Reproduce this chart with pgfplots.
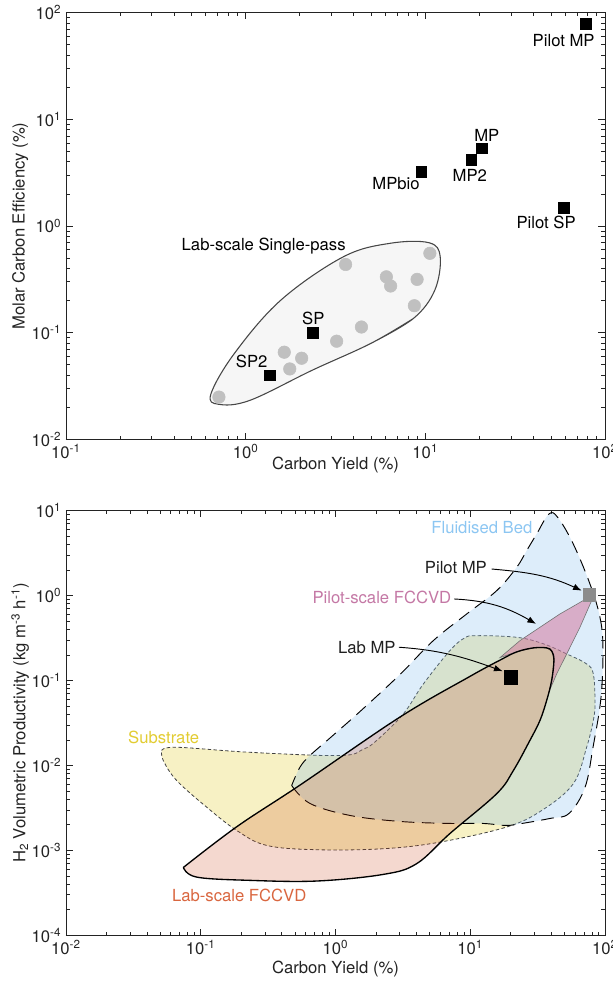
\documentclass[border=0pt]{standalone}
\usepackage{fontspec}
\setmainfont{TeX Gyre Heros}
\usepackage{pgfplots}
\usepackage{pgfplotstable}
\pgfplotsset{compat=1.18}
\usetikzlibrary{arrows.meta}

\definecolor{axisgray}{RGB}{35,35,35}
\definecolor{circgray}{RGB}{192,192,192}
\definecolor{passfill}{RGB}{246,246,246}
\definecolor{passline}{RGB}{70,70,70}
\definecolor{subfill}{RGB}{228,208,58}
\definecolor{bedfill}{RGB}{129,188,236}
\definecolor{labfill}{RGB}{200,60,15}
\definecolor{pilotfill}{RGB}{210,110,150}
\definecolor{sublabel}{RGB}{226,204,50}
\definecolor{bedlabel}{RGB}{140,198,242}
\definecolor{pilotlabel}{RGB}{196,120,165}
\definecolor{lablabel}{RGB}{217,102,63}
\definecolor{pilotsq}{RGB}{140,140,140}

\newcommand{\lbl}{\fontsize{12.5}{15}\selectfont}

% top panel: lab-scale single-pass envelope
\pgfplotstableread{
x y
4.97 0.0793
8.59 0.136
11.3 0.251
12.1 0.515
10.5 0.697
6.37 0.689
3.50 0.515
1.57 0.202
0.865 0.0638
0.640 0.0265
0.708 0.0213
1.056 0.0232
2.35 0.0445
4.97 0.0793
8.59 0.136
}\singlepass

\pgfplotstableread{
x y
0.71 0.0249
1.64 0.0656
1.76 0.0457
2.05 0.0576
3.21 0.0832
4.41 0.113
3.60 0.436
6.07 0.334
6.41 0.274
9.0 0.316
8.69 0.179
10.6 0.555
}\labpoints

\pgfplotstableread{
x y
78 79
20.6 5.36
18.0 4.17
9.5 3.21
59.2 1.49
2.36 0.100
1.36 0.040
}\processes

% bottom panel regions
\pgfplotstableread{
x y
0.0513 0.0150
0.0662 0.0164
0.232 0.0143
1.08 0.0131
1.6 0.0155
2.02 0.0197
3.19 0.0406
4.49 0.0913
7.07 0.2255
9.1 0.318
11.17 0.338
22.1 0.3235
34.7 0.272
52.0 0.206
73.1 0.157
81.9 0.12
84.3 0.0582
82.5 0.036
73.1 0.0164
58.2 0.0061
34.0 0.00296
18.5 0.00188
5.92 0.00125
2.265 0.001047
0.724 0.001019
0.308 0.001146
0.185 0.001718
0.1107 0.00323
0.0662 0.00667
0.0527 0.01146
0.0513 0.0150
}\substrate

\pgfplotstableread{
x y
0.473 0.00582
0.6466 0.003572
1.281 0.002581
3.011 0.002194
7.07 0.002078
12.43 0.002078
18.42 0.001968
24.21 0.002078
39.07 0.002379
54.06 0.002724
71.05 0.00551
81.47 0.01628
93.4 0.0631
96.6 0.2445
91.8 0.556
77.4 1.37
58.2 4.05
44.8 8.27
38.5 9.2
31.1 5.32
26.2 3.38
22.1 2.155
15.71 1.145
9.41 0.6085
5.32 0.2955
3.011 0.118
1.52 0.0432
0.910 0.02106
0.6466 0.01311
0.545 0.00955
0.473 0.00582
}\fluidbed

\pgfplotstableread{
x y
77.4 0.973
46.3 0.6085
32.9 0.424
23.4 0.2955
16.63 0.1865
22.1 0.2175
29.4 0.2425
36.9 0.2425
40.3 0.222
41.8 0.1738
40.2 0.1
38.2 0.0722
43.8 0.1198
52.0 0.206
65.2 0.424
79.6 0.873
77.4 0.973
}\pilotscale

\pgfplotstableread{
x y
0.0743 0.00063
0.0933 0.000485
0.232 0.000444
0.724 0.000436
2.265 0.000522
4.0 0.000698
7.08 0.001585
15.7 0.00465
20.9 0.00873
27.7 0.0197
32.9 0.0338
36.9 0.0582
40.2 0.1
41.8 0.1738
40.3 0.222
36.9 0.2425
29.4 0.2425
22.1 0.2175
16.6 0.1738
9.95 0.112
3.01 0.0372
0.546 0.00589
0.185 0.0019
0.0743 0.00063
}\labscale

\pgfplotsset{
  panel/.style={
    scale only axis, width=404.25pt,
    axis line style={draw=axisgray, line width=0.7pt},
    tick style={draw=axisgray, line width=0.6pt},
    major tick length=5pt, minor tick length=2.8pt,
    tick align=inside,
    tick label style={font=\lbl, text=axisgray},
    label style={font=\lbl, text=axisgray},
    xticklabel={10\textsuperscript{\pgfmathparse{int(round(\tick/ln(10)))}\pgfmathresult}},
    yticklabel={10\textsuperscript{\pgfmathparse{int(round(\tick/ln(10)))}\pgfmathresult}},
    ylabel style={at={(axis description cs:-0.085,0.5)}, anchor=center},
  },
}
\tikzset{lab/.style={font=\lbl, inner sep=0pt}}

\begin{document}
\begin{tikzpicture}[font=\lbl]

% ---------------- top panel ----------------
\begin{loglogaxis}[panel, at={(0pt,372pt)}, anchor=south west, height=319.95pt,
  xmin=0.1, xmax=100, ymin=0.01, ymax=100,
  xlabel={Carbon Yield (\%)},
  ylabel={Molar Carbon Efficiency (\%)},
  xlabel style={at={(axis description cs:0.5,-0.061)}, anchor=center}]
\addplot[smooth, tension=0.6, fill=passfill, draw=passline, line width=0.8pt] table {\singlepass};
\addplot[only marks, mark=*, mark size=4.7pt, mark options={fill=circgray, draw=circgray}] table {\labpoints};
\addplot[only marks, mark=square*, mark size=4pt, mark options={fill=black, draw=black}] table {\processes};
\node[lab] at (axis cs:58.9,55.0) {Pilot MP};
\node[lab] at (axis cs:22.0,7.14) {MP};
\node[lab] at (axis cs:17.7,2.97) {MP2};
\node[lab] at (axis cs:6.87,2.52) {MPbio};
\node[lab] at (axis cs:47.0,1.07) {Pilot SP};
\node[lab] at (axis cs:2.38,0.136) {SP};
\node[lab] at (axis cs:1.08,0.0532) {SP2};
\node[lab] at (axis cs:1.26,0.649) {Lab-scale Single-pass};
\end{loglogaxis}

% ---------------- bottom panel ----------------
\begin{loglogaxis}[panel, at={(0pt,0pt)}, anchor=south west, height=318.45pt,
  xmin=0.01, xmax=100, ymin=1e-4, ymax=10,
  xlabel={Carbon Yield (\%)},
  ylabel={H\textsubscript{2} Volumetric Productivity (kg m\textsuperscript{-3} h\textsuperscript{-1})},
  xlabel style={at={(axis description cs:0.5,-0.080)}, anchor=center}]
\addplot[smooth, tension=0.6, fill=subfill, fill opacity=0.3, draw=black!75, line width=0.6pt, dash pattern=on 2.6pt off 1.8pt] table {\substrate};
\addplot[smooth, tension=0.6, fill=bedfill, fill opacity=0.27, draw=black, line width=0.7pt, dash pattern=on 9.5pt off 5.5pt] table {\fluidbed};
\addplot[sharp plot, fill=pilotfill, fill opacity=0.5, draw=black!55, line width=0.45pt] table {\pilotscale};
\addplot[smooth, tension=0.6, fill=labfill, fill opacity=0.2, draw=black, line width=1pt] table {\labscale};
\addplot[only marks, mark=square*, mark size=4.75pt, mark options={fill=pilotsq, draw=pilotsq}] coordinates {(76.5,1.02)};
\addplot[only marks, mark=square*, mark size=5pt, mark options={fill=black, draw=black}] coordinates {(20.1,0.109)};
\node[lab, text=bedlabel] at (axis cs:12.2,6.37) {Fluidised Bed};
\node[lab, text=black!88] at (axis cs:7.83,2.15) {Pilot MP};
\node[lab, text=pilotlabel] at (axis cs:2.21,0.946) {Pilot-scale FCCVD};
\node[lab, text=black!88] at (axis cs:1.71,0.247) {Lab MP};
\node[lab, text=sublabel] at (axis cs:0.0531,0.0215) {Substrate};
\node[lab, text=lablabel] at (axis cs:0.193,0.000296) {Lab-scale FCCVD};
\draw[-{Latex[length=6.5pt,width=5pt]}, line width=0.7pt] (axis cs:14.4,2.06) to[out=-5,in=155] (axis cs:67.2,1.145);
\draw[-{Latex[length=6.5pt,width=5pt]}, line width=0.7pt] (axis cs:7.6,0.914) to[out=-3,in=150] (axis cs:30.8,0.465);
\draw[-{Latex[length=6.5pt,width=5pt]}, line width=0.7pt] (axis cs:2.95,0.247) to[out=-4,in=160] (axis cs:17.4,0.129);
\end{loglogaxis}

\pgfresetboundingbox
\path[use as bounding box] (-49.5pt,-35pt) rectangle (409.5pt,701.5pt);
\end{tikzpicture}
\end{document}
